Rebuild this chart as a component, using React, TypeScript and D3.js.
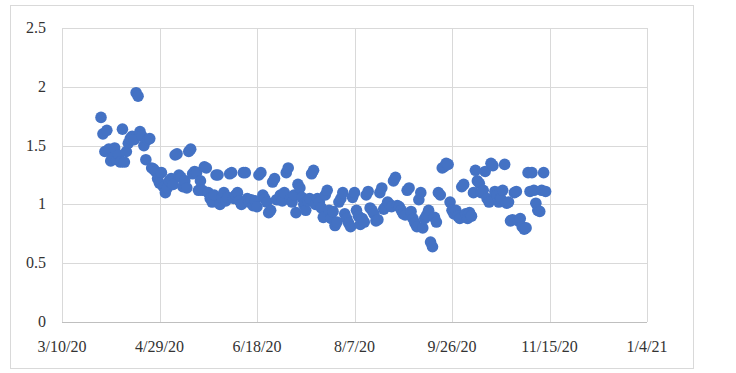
import React from "react";
import * as d3 from "d3";

// Daily ratio scatter, 3/30/20 .. 11/13/20, Excel-style look.
const startDate = new Date(Date.UTC(2020, 2, 30));
const endDate = new Date(Date.UTC(2020, 10, 14));

const values = [
  // 3/30 - 4/8
  1.74, 1.6, 1.45, 1.63, 1.47, 1.37, 1.4, 1.48, 1.38, 1.42,
  1.36, 1.64, 1.36, 1.45, 1.52, 1.56, 1.58, 1.55, 1.95, 1.92,
  1.62, 1.58, 1.5, 1.38, 1.55, 1.56, 1.31, 1.3, 1.28, 1.22,
  1.18, 1.27, 1.15, 1.1, 1.14, 1.2, 1.22, 1.17, 1.42, 1.43,
  1.25, 1.23, 1.15, 1.2, 1.14, 1.45, 1.47, 1.26, 1.28, 1.27,
  1.12, 1.2, 1.12, 1.32, 1.31, 1.1, 1.05, 1.02, 1.08, 1.25,
  1.25, 1.0, 1.06, 1.1, 1.03, 1.06, 1.26, 1.27, 1.05, 1.08,
  1.1, 1.03, 1.0, 1.27, 1.27, 1.05, 1.02, 1.04, 0.99, 1.03,
  0.98, 1.25, 1.27, 1.08, 1.05, 1.02, 0.93, 0.95, 1.19, 1.22,
  1.04, 1.04, 1.08, 1.03, 1.1, 1.27, 1.31, 1.04, 1.02, 1.08,
  0.93, 1.17, 1.14, 1.06, 1.0, 0.95, 1.03, 1.05, 1.26, 1.29,
  1.0, 1.05, 1.02, 0.97, 0.89, 1.08, 1.12, 0.95, 0.88, 0.94,
  0.82, 0.85, 1.02, 1.05, 1.1, 0.92, 0.88, 0.84, 0.81, 1.06,
  1.1, 0.95, 0.9, 0.83, 0.88, 0.85, 1.08, 1.11, 0.97, 0.95,
  0.92, 0.86, 0.87, 1.1, 1.14, 0.96, 0.98, 1.02, 1.0, 0.98,
  1.2, 1.23, 0.99, 0.98, 0.95, 0.92, 0.91, 1.12, 1.14, 0.94,
  0.88, 0.84, 0.81, 1.04, 1.1, 0.8, 0.88, 0.91, 0.95, 0.68,
  0.64, 0.89, 0.85, 1.1, 1.08, 1.31, 1.32, 1.35, 1.34, 1.02,
  0.95, 0.92, 0.95, 0.9, 0.88, 1.15, 1.17, 0.92, 0.88, 0.93,
  0.9, 1.1, 1.29, 1.2, 1.18, 1.1, 1.12, 1.28, 1.05, 1.02,
  1.35, 1.33, 1.11, 1.08, 1.02, 1.05, 1.12, 1.34, 1.01, 1.02,
  0.86, 0.87, 1.1, 1.11, 0.86, 0.88, 0.81, 0.79, 0.8, 1.27,
  1.11, 1.27, 1.12, 1.01, 0.95, 0.94, 1.12, 1.27, 1.11,
];

const xTickLabels = ["3/10/20", "4/29/20", "6/18/20", "8/7/20", "9/26/20", "11/15/20", "1/4/21"];
const yTicks = [0, 0.5, 1, 1.5, 2, 2.5];

const W = 736;
const H = 373;
const plot = { left: 62, right: 647, top: 28, bottom: 322 };

export default function App() {
  const dates = d3.utcDay.range(startDate, endDate);
  const points = values.map((v, i) => ({ date: dates[i], value: v }));

  const x = d3
    .scaleUtc()
    .domain([new Date(Date.UTC(2020, 2, 10)), new Date(Date.UTC(2021, 0, 4))])
    .range([plot.left, plot.right]);
  const y = d3.scaleLinear().domain([0, 2.5]).range([plot.bottom, plot.top]);

  // one gridline every 50 days, like the Excel axis
  const xTicks = xTickLabels.map((_, i) => d3.utcDay.offset(x.domain()[0], i * 50));

  const font = "'Liberation Serif', 'Times New Roman', serif";

  return (
    <svg
      width={W}
      height={H}
      style={{ position: "absolute", left: 0, top: 0, background: "#fff" }}
    >
      <rect x={10.5} y={5.5} width={683} height={363} fill="#fff" stroke="#d9d9d9" />
      {yTicks.map((t) => (
        <line
          key={"h" + t}
          x1={plot.left}
          x2={plot.right}
          y1={Math.round(y(t)) + 0.5}
          y2={Math.round(y(t)) + 0.5}
          stroke={t === 0 ? "#bfbfbf" : "#d9d9d9"}
        />
      ))}
      {xTicks.map((t, i) => (
        <line
          key={"v" + i}
          x1={Math.round(x(t)) + 0.5}
          x2={Math.round(x(t)) + 0.5}
          y1={plot.top}
          y2={plot.bottom}
          stroke="#d9d9d9"
        />
      ))}
      {yTicks.map((t) => (
        <text
          key={"yl" + t}
          x={46}
          y={y(t) + 5}
          textAnchor="end"
          fontFamily={font}
          fontSize={16}
          fill="#333"
        >
          {t}
        </text>
      ))}
      {xTicks.map((t, i) => (
        <text
          key={"xl" + i}
          x={x(t)}
          y={352}
          textAnchor="middle"
          fontFamily={font}
          fontSize={16}
          fill="#333"
        >
          {xTickLabels[i]}
        </text>
      ))}
      <g>
        {points.map((p, i) => (
          <circle key={i} cx={x(p.date)} cy={y(p.value)} r={5.8} fill="#4472c4" />
        ))}
      </g>
    </svg>
  );
}
